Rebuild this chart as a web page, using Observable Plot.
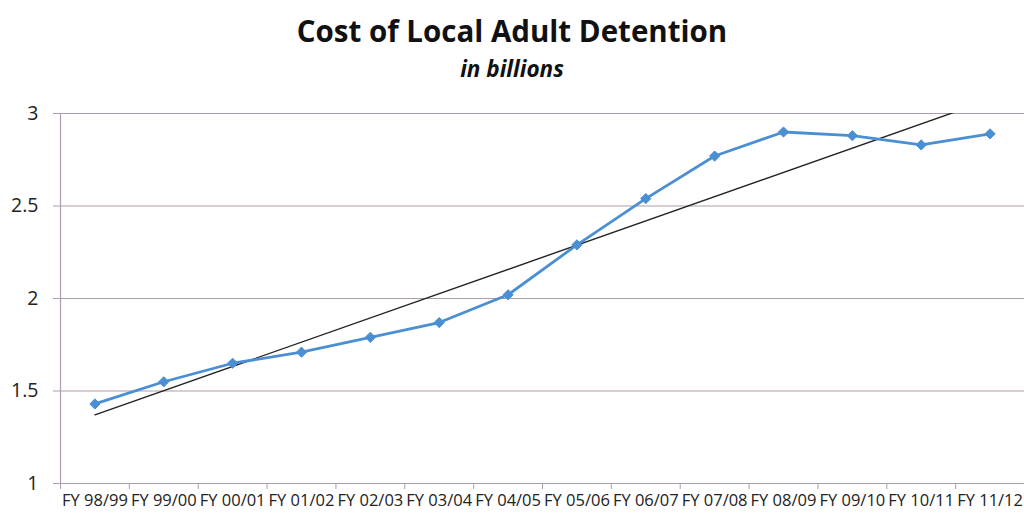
<!DOCTYPE html>
<html><head><meta charset="utf-8">
<script src="https://cdn.jsdelivr.net/npm/d3@7"></script>
<script src="https://cdn.jsdelivr.net/npm/@observablehq/plot@0.6"></script>
<style>
body{margin:0;background:#fff;font-family:"Open Sans",Lato,sans-serif;width:1024px;height:514px;position:relative;overflow:hidden;}
#title{position:absolute;left:0;width:1024px;top:12px;text-align:center;font-size:29.5px;line-height:38px;font-weight:bold;color:#111;}
#subtitle{position:absolute;left:0;width:1024px;top:55px;text-align:center;font-size:22.5px;line-height:28px;font-weight:bold;font-style:italic;color:#111;}
#chart{position:absolute;left:0;top:95px;}
</style></head><body>
<div id="title">Cost of Local Adult Detention</div>
<div id="subtitle">in billions</div>
<div id="chart"></div>
<script>
const categories = ["FY 98/99","FY 99/00","FY 00/01","FY 01/02","FY 02/03","FY 03/04","FY 04/05","FY 05/06","FY 06/07","FY 07/08","FY 08/09","FY 09/10","FY 10/11","FY 11/12"];
const costs = [1.43,1.55,1.65,1.71,1.79,1.87,2.02,2.29,2.54,2.77,2.90,2.88,2.83,2.89];
const yTicks = [1,1.5,2,2.5,3];

const data = categories.map((c,i)=>({i, category:c, cost:costs[i]}));
const idx = d3.range(categories.length);
const boundaries = d3.range(categories.length+1).map(k=>k-0.5);
const gridColor = "#ab9dab";
const blue = "#4a8fd3";

const chart = Plot.plot({
  width:1024, height:419,
  marginLeft:60, marginRight:0, marginTop:18, marginBottom:31,
  style:{fontFamily:"'Open Sans', Lato, sans-serif", background:"#fff", overflow:"visible"},
  x:{domain:[-0.5, categories.length-0.5], axis:null},
  y:{domain:[1,3], axis:null},
  marks:[
    Plot.gridY(yTicks.slice(1), {stroke:gridColor, strokeOpacity:1, strokeWidth:1.2}),
    Plot.ruleY([1], {stroke:gridColor, strokeWidth:1.2}),
    Plot.ruleX([-0.5], {stroke:gridColor, strokeWidth:1.2}),
    Plot.axisY({ticks:yTicks, tickSize:7, tickPadding:15, stroke:gridColor, fontSize:19.5, fill:"#222", label:null, tickFormat:d=>String(d)}),
    Plot.axisX({ticks:boundaries, tickSize:6, stroke:gridColor, label:null, tickFormat:()=>""}),
    Plot.axisX({ticks:idx, tickSize:0, tickPadding:11, fontSize:16.5, fill:"#222", label:null, tickFormat:i=>categories[i]}),
    Plot.linearRegressionY(data, {x:"i", y:"cost", ci:0, stroke:"#222", strokeWidth:1.4, clip:true}),
    Plot.line(data, {x:"i", y:"cost", stroke:blue, strokeWidth:2.8}),
    Plot.dot(data, {x:"i", y:"cost", symbol:"diamond2", r:4.6, fill:blue, stroke:blue, strokeWidth:1})
  ]
});
document.getElementById("chart").appendChild(chart);
</script>
</body></html>
